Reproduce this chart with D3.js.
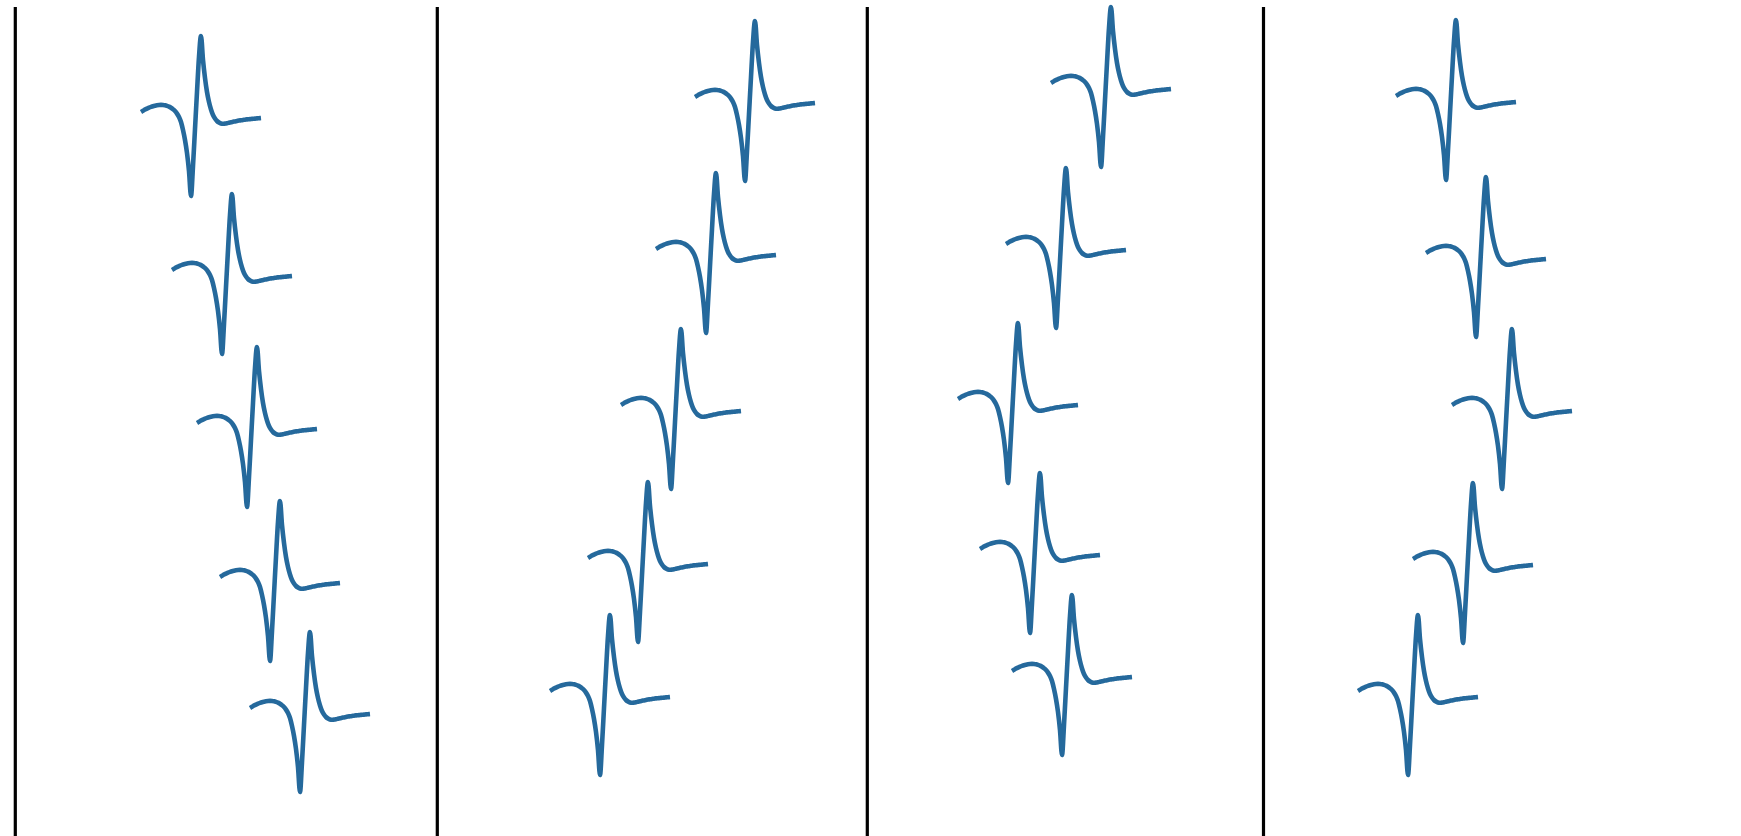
<!DOCTYPE html>
<html>
<head>
<meta charset="utf-8">
<script src="https://cdn.jsdelivr.net/npm/d3@7"></script>
<style>
  html, body { margin: 0; padding: 0; background: #ffffff; }
  svg { display: block; }
</style>
</head>
<body>
<svg id="chart" width="1741" height="836"></svg>
<script>
// Mean spike template, one sample every step (amplitude, positive = up)
const template = [
  0, 1.2, 2.4, 3.4, 4.3, 5.1, 5.8, 6.3, 6.7, 7,
  7.1, 7, 6.7, 6.1, 5.3, 4.2, 2.8, 1, -1.6, -5,
  -10, -18, -28, -41, -59, -84, -54, -17, 20, 55,
  76, 52, 34, 20, 10, 2.5, -3, -6.5, -9, -10.5,
  -11.5, -11.8, -11.6, -11.2, -10.7, -10.2, -9.8, -9.4, -9, -8.6,
  -8.3, -8, -7.7, -7.4, -7.2, -7, -6.8, -6.6, -6.4, -6.2, -6
];

// Left edge of each unit panel
const panelEdges = [15.3, 437.3, 867.3, 1263.5];

// Channel positions where each waveform starts (x from the panel edge, y from top)
const channelX = [
  [125.7, 156.7, 181.7, 204.7, 234.7],
  [257.7, 218.7, 183.7, 150.7, 112.7],
  [183.7, 138.7, 90.7, 112.7, 144.7],
  [132.5, 162.5, 188.5, 149.5, 94.5]
];
const channelY = [
  [112, 270, 423, 577, 708],
  [97, 249, 405, 558, 691],
  [83, 244, 399, 549, 671],
  [96, 253, 405, 559, 691]
];

const W = 1741, H = 836;
const svg = d3.select("#chart");
svg.append("rect").attr("width", W).attr("height", H).attr("fill", "#ffffff");

// Waveform-local scales: sample index -> px, amplitude -> px
const tScale = d3.scaleLinear().domain([0, template.length - 1]).range([0, 120]);
const aScale = d3.scaleLinear().domain([-100, 100]).range([100, -100]);
// Depth along the probe -> page y
const yScale = d3.scaleLinear().domain([0, H]).range([0, H]);

const line = d3.line()
  .x((d, i) => tScale(i))
  .y(d => aScale(d))
  .curve(d3.curveMonotoneX);

panelEdges.forEach((edge, p) => {
  const xScale = d3.scaleLinear().domain([0, 400]).range([edge, edge + 400]);
  const g = svg.append("g").attr("class", "unit-panel");

  // Left spine of the panel
  g.append("line")
    .attr("x1", edge).attr("x2", edge)
    .attr("y1", 7).attr("y2", H)
    .attr("stroke", "#000000")
    .attr("stroke-width", 3.2);

  channelX[p].forEach((cx, c) => {
    g.append("path")
      .datum(template)
      .attr("transform", `translate(${xScale(cx)},${yScale(channelY[p][c])})`)
      .attr("d", line)
      .attr("fill", "none")
      .attr("stroke", "#25699c")
      .attr("stroke-width", 4.6)
      .attr("stroke-linejoin", "round");
  });
});
</script>
</body>
</html>
